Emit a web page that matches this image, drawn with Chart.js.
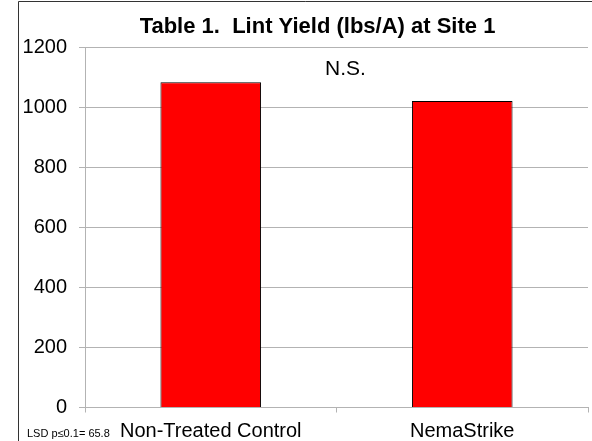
<!DOCTYPE html>
<html>
<head>
<meta charset="utf-8">
<script src="https://cdn.jsdelivr.net/npm/chart.js@4"></script>
<style>
  html, body { margin: 0; padding: 0; background: #fff; }
  #wrap { width: 592px; height: 441px; position: relative; }
</style>
</head>
<body>
<div id="wrap"><canvas id="grafico"></canvas></div>
<script>
// --- datos ---
const categorias = ['Non-Treated Control', 'NemaStrike'];
const rendimiento = [1084, 1022];
const yMin = 0;
const yMax = 1200;
const yPaso = 200;
const titulo = 'Table 1.  Lint Yield (lbs/A) at Site 1';
const notaNS = 'N.S.';
const notaLSD = 'LSD p\u22640.1= 65.8';

const fuente = "'Liberation Sans', Arial, sans-serif";
const gris = '#b3b3b3';

// marco, título y notas dibujados sobre el canvas
const extras = {
    id: 'extras',
    beforeDraw(chart) {
        const c = chart.ctx;
        c.save();
        c.strokeStyle = '#333';
        c.lineWidth = 1;
        c.beginPath();
        c.moveTo(18.5, 445);
        c.lineTo(18.5, 1.5);
        c.lineTo(600, 1.5);
        c.stroke();
        c.restore();
    },
    afterDraw(chart) {
        const c = chart.ctx;
        c.save();
        c.fillStyle = '#000';
        c.textBaseline = 'alphabetic';
        c.textAlign = 'center';
        c.font = 'bold 22px ' + fuente;
        c.fillText(titulo, 317.5, 33);
        c.font = '21px ' + fuente;
        c.fillText(notaNS, 345.5, 75);
        c.textAlign = 'left';
        c.font = '11px ' + fuente;
        c.fillText(notaLSD, 27, 437);
        c.restore();
    }
};

new Chart(document.getElementById('grafico'), {
    type: 'bar',
    data: {
        labels: categorias,
        datasets: [{
            data: rendimiento,
            backgroundColor: '#ff0000',
            borderColor: '#000',
            borderWidth: 1,
            categoryPercentage: 1,
            barPercentage: 0.4
        }]
    },
    options: {
        responsive: true,
        maintainAspectRatio: false,
        animation: false,
        layout: { padding: { top: 47.5, right: 4, left: 0, bottom: 0 } },
        plugins: {
            legend: { display: false },
            title: { display: false },
            tooltip: { enabled: false }
        },
        scales: {
            x: {
                grid: { color: gris, drawOnChartArea: false, drawTicks: true, tickLength: 5, offset: true },
                border: { color: gris },
                ticks: { color: '#000', font: { family: fuente, size: 20 }, padding: 7, maxRotation: 0 },
                afterFit(scale) { scale.height = 33.5; }
            },
            y: {
                min: yMin,
                max: yMax,
                grid: { color: gris, tickLength: 6 },
                border: { color: gris },
                ticks: {
                    stepSize: yPaso,
                    color: '#000',
                    font: { family: fuente, size: 20 },
                    padding: 12,
                    callback: (v) => String(v)
                },
                afterFit(scale) { scale.width = 85; }
            }
        }
    },
    plugins: [extras]
});
</script>
</body>
</html>
